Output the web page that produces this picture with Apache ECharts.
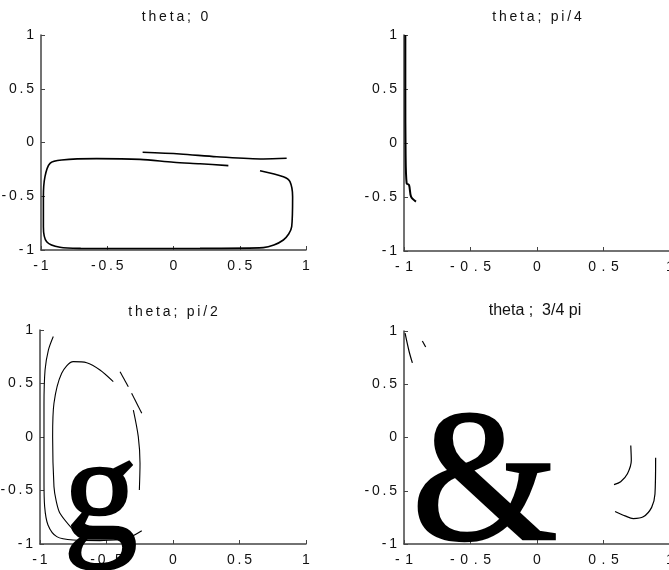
<!DOCTYPE html>
<html>
<head>
<meta charset="utf-8">
<script src="https://cdn.jsdelivr.net/npm/echarts@6/dist/echarts.min.js"></script>
<style>
  html, body { margin: 0; padding: 0; background: #fff; }
  #chart { width: 669px; height: 570px; }
</style>
</head>
<body>
<div id="chart"></div>
<script>
// ticks shared by every panel
const tickValues = [-1, -0.5, 0, 0.5, 1];

const titles = ['theta; 0', 'theta; pi/4', 'theta; pi/2', 'theta ;  3/4 pi'];

// theta = 0 : the flat loop and the line above it
const t0Loop = [
  [0.414, -0.215], [0.2, -0.198], [0.0, -0.184], [-0.253, -0.157], [-0.58, -0.15],
  [-0.844, -0.163], [-0.932, -0.194], [-0.97, -0.318], [-0.982, -0.504], [-0.982, -0.783],
  [-0.957, -0.923], [-0.857, -0.975], [-0.7, -0.985], [-0.3, -0.986], [0.2, -0.985],
  [0.678, -0.978], [0.829, -0.907], [0.892, -0.783], [0.899, -0.504], [0.879, -0.364],
  [0.829, -0.318], [0.653, -0.262]
];
const t0Upper = [[-0.233, -0.091], [0.049, -0.107], [0.326, -0.132], [0.678, -0.153], [0.854, -0.147]];

// theta = pi/4 : one line hugging the left edge
const t1Edge = [
  [-0.99, 1], [-0.99, 0.5], [-0.988, -0.1], [-0.98, -0.373], [-0.962, -0.389],
  [-0.947, -0.497], [-0.91, -0.543]
];

// theta = pi/2
const t2Outer = [
  [-0.9, 0.94], [-0.937, 0.813], [-0.962, 0.626], [-0.97, 0.3], [-0.97, 0.0],
  [-0.97, -0.4], [-0.965, -0.651], [-0.94, -0.822], [-0.874, -0.931], [-0.75, -0.963],
  [-0.55, -0.968], [-0.348, -0.947], [-0.235, -0.876]
];
const t2Inner = [
  [-0.75, -0.869], [-0.85, -0.713], [-0.878, -0.6], [-0.895, -0.464], [-0.905, 0.003],
  [-0.895, 0.315], [-0.837, 0.595], [-0.75, 0.704], [-0.649, 0.694], [-0.549, 0.626],
  [-0.449, 0.517]
];
const t2InnerRight = [[-0.298, 0.252], [-0.261, 0.003], [-0.248, -0.246], [-0.253, -0.495]];
const t2DashA = [[-0.398, 0.61], [-0.336, 0.47]];
const t2DashB = [[-0.311, 0.408], [-0.235, 0.221]];

// theta = 3/4 pi
const t3TopA = [[-0.992, 0.98], [-0.962, 0.81], [-0.937, 0.7]];
const t3TopB = [[-0.862, 0.906], [-0.837, 0.85]];
const t3ArcA = [[0.705, -0.075], [0.709, -0.217], [0.68, -0.34], [0.629, -0.415], [0.579, -0.443]];
const t3ArcB = [
  [0.892, -0.191], [0.887, -0.53], [0.862, -0.656], [0.799, -0.745], [0.724, -0.761],
  [0.662, -0.736], [0.587, -0.695]
];

// the two big glyphs pasted over the lower panels
const glyphG = [[-0.545, -0.585]];
const glyphAmp = [[-0.392, -0.485]];

const grids = [
  { left: 41, top: 35, width: 265, height: 215 },
  { left: 404, top: 35, width: 266, height: 216 },
  { left: 40, top: 330, width: 266, height: 214 },
  { left: 404, top: 331, width: 266, height: 213 }
];
const titlePos = [
  { left: 175, top: 10, size: 14, sep: '\u2009' },
  { left: 537, top: 10, size: 14, sep: '\u2009' },
  { left: 173, top: 305, size: 14, sep: '\u2009' },
  { left: 535, top: 303, size: 16, sep: '' }
];
// gap between characters of the tick labels: [x, y] per panel
const labelSep = [
  ['\u2009', '\u2009'],
  ['\u2009\u2009', '\u2009'],
  ['\u2009', '\u2009'],
  ['\u2009\u2009', '\u2009']
];

const chart = echarts.init(document.getElementById('chart'));

const spaced = (s, sep) => String(s).split('').join(sep);
const step = tickValues[1] - tickValues[0];

function axis(i, isX) {
  return {
    type: 'value',
    gridIndex: i,
    min: tickValues[0],
    max: tickValues[tickValues.length - 1],
    interval: step,
    axisLine: { show: true, onZero: false, lineStyle: { color: '#444', width: 1.5 } },
    axisTick: { show: true, inside: true, length: 4, lineStyle: { color: '#444' } },
    splitLine: { show: false },
    axisLabel: {
      color: '#111',
      fontFamily: 'Liberation Sans, Arial',
      fontSize: 14,
      margin: isX ? 9 : 7,
      showMinLabel: true,
      showMaxLabel: true,
      formatter: (v) => spaced(v, labelSep[i][isX ? 0 : 1])
    }
  };
}

function curve(data, i, width) {
  return {
    type: 'line',
    xAxisIndex: i,
    yAxisIndex: i,
    data: data,
    symbol: 'none',
    smooth: 0.3,
    lineStyle: { color: '#000', width: width },
    silent: true
  };
}

function glyph(data, i, ch, size) {
  return {
    type: 'scatter',
    xAxisIndex: i,
    yAxisIndex: i,
    data: data,
    symbolSize: 0,
    z: 5,
    itemStyle: { opacity: 1 },
    label: {
      show: true,
      position: 'inside',
      formatter: ch,
      color: '#000',
      opacity: 1,
      // the printed glyphs are heavier than the plain serif face
      textBorderColor: '#000',
      textBorderWidth: 2.5,
      fontFamily: 'Liberation Serif, Times New Roman, serif',
      fontSize: size
    },
    silent: true
  };
}

const option = {
  animation: false,
  backgroundColor: '#fff',
  title: titles.map((t, i) => ({
    text: spaced(t, titlePos[i].sep),
    left: titlePos[i].left,
    top: titlePos[i].top,
    textAlign: 'center',
    padding: 0,
    textStyle: {
      fontFamily: 'Liberation Sans, Arial',
      fontSize: titlePos[i].size,
      fontWeight: 'normal',
      color: '#111'
    }
  })),
  grid: grids.map((g) => Object.assign({ outerBoundsMode: 'none', containLabel: false }, g)),
  xAxis: grids.map((g, i) => axis(i, true)),
  yAxis: grids.map((g, i) => axis(i, false)),
  series: [
    curve(t0Loop, 0, 1.6),
    curve(t0Upper, 0, 1.6),
    curve(t1Edge, 1, 2),
    curve(t2Outer, 2, 1.1),
    curve(t2Inner, 2, 1.1),
    curve(t2InnerRight, 2, 1.1),
    curve(t2DashA, 2, 1.1),
    curve(t2DashB, 2, 1.1),
    curve(t3TopA, 3, 1.2),
    curve(t3TopB, 3, 1.2),
    curve(t3ArcA, 3, 1.2),
    curve(t3ArcB, 3, 1.2),
    glyph(glyphG, 2, 'g', 148),
    glyph(glyphAmp, 3, '&', 188)
  ]
};

chart.setOption(option);
</script>
</body>
</html>
